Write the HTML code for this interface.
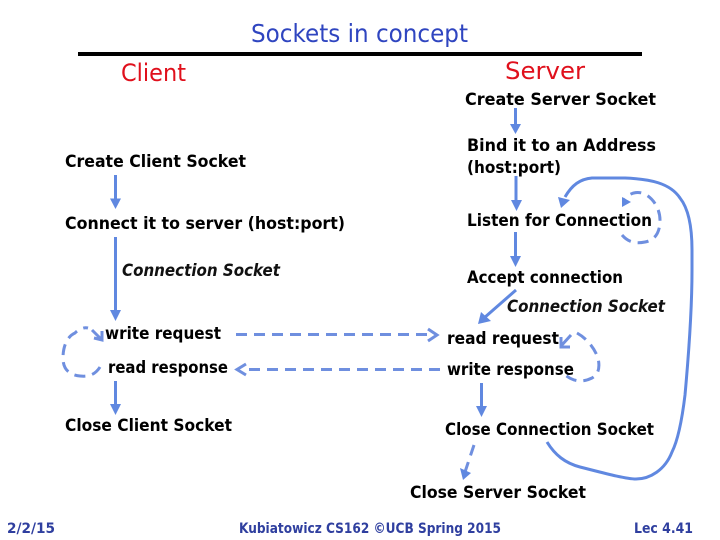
<!DOCTYPE html>
<html><head><meta charset="utf-8"><style>
html,body{margin:0;padding:0;background:#fff;width:720px;height:540px;overflow:hidden}
svg{display:block}
text{font-family:"DejaVu Sans","Liberation Sans",sans-serif;}
.b{font-size:16.500px;font-weight:bold;fill:#000}
.i{font-size:16.500px;font-style:italic;font-weight:bold;fill:#111}
.f{font-size:14px;font-weight:bold;fill:#2f3f9f}
.l{fill:none;stroke:#6088e0;stroke-width:3}
.d{fill:none;stroke:#6f8fdf;stroke-width:3;stroke-dasharray:11 7}
.h{fill:#6088e0}
</style></head><body>
<svg width="720" height="540" viewBox="0 0 720 540" xmlns="http://www.w3.org/2000/svg">
<rect x="78" y="52" width="564" height="4" fill="#000"/>
<text x="251" y="42" font-size="25" fill="#2f45c0" textLength="217" lengthAdjust="spacingAndGlyphs">Sockets in concept</text>
<text x="121" y="81" font-size="24" fill="#e0101c" textLength="65" lengthAdjust="spacingAndGlyphs">Client</text>
<text x="505" y="79" font-size="24" fill="#e0101c" textLength="80" lengthAdjust="spacingAndGlyphs">Server</text>

<text class="b" x="465" y="105" textLength="191" lengthAdjust="spacingAndGlyphs">Create Server Socket</text>
<text class="b" x="65" y="167" textLength="181" lengthAdjust="spacingAndGlyphs">Create Client Socket</text>
<text class="b" x="467" y="151" textLength="189" lengthAdjust="spacingAndGlyphs">Bind it to an Address</text>
<text class="b" x="467" y="173" textLength="94" lengthAdjust="spacingAndGlyphs">(host:port)</text>
<text class="b" x="65" y="229" textLength="280" lengthAdjust="spacingAndGlyphs">Connect it to server (host:port)</text>
<text class="b" x="467" y="226" textLength="185" lengthAdjust="spacingAndGlyphs">Listen for Connection</text>
<text class="i" x="122" y="276" textLength="158" lengthAdjust="spacingAndGlyphs">Connection Socket</text>
<text class="b" x="467" y="283" textLength="156" lengthAdjust="spacingAndGlyphs">Accept connection</text>
<text class="i" x="507" y="312" textLength="158" lengthAdjust="spacingAndGlyphs">Connection Socket</text>
<text class="b" x="105" y="339" textLength="116" lengthAdjust="spacingAndGlyphs">write request</text>
<text class="b" x="447" y="344" textLength="112" lengthAdjust="spacingAndGlyphs">read request</text>
<text class="b" x="108" y="373" textLength="120" lengthAdjust="spacingAndGlyphs">read response</text>
<text class="b" x="447" y="375" textLength="127" lengthAdjust="spacingAndGlyphs">write response</text>
<text class="b" x="65" y="431" textLength="167" lengthAdjust="spacingAndGlyphs">Close Client Socket</text>
<text class="b" x="445" y="435" textLength="209" lengthAdjust="spacingAndGlyphs">Close Connection Socket</text>
<text class="b" x="410" y="498" textLength="176" lengthAdjust="spacingAndGlyphs">Close Server Socket</text>

<text class="f" x="7" y="533" textLength="48" lengthAdjust="spacingAndGlyphs">2/2/15</text>
<text class="f" x="239" y="533" textLength="262" lengthAdjust="spacingAndGlyphs">Kubiatowicz CS162 ©UCB Spring 2015</text>
<text class="f" x="634" y="533" textLength="59" lengthAdjust="spacingAndGlyphs">Lec 4.41</text>

<!-- client solid arrows -->
<path class="l" d="M115.500 175V200"/><path class="h" d="M110 198.500H121L115.500 209Z"/>
<path class="l" d="M115.500 237V312"/><path class="h" d="M110 310H121L115.500 321Z"/>
<path class="l" d="M115.500 381V405"/><path class="h" d="M110 404H121L115.500 415Z"/>

<!-- server solid arrows -->
<path class="l" d="M515.500 108V126"/><path class="h" d="M510 124H521L515.500 134Z"/>
<path class="l" d="M516 176V202"/><path class="h" d="M511 200H522L516.500 211Z"/>
<path class="l" d="M515.500 232V258"/><path class="h" d="M510 256H521L515.500 267Z"/>
<path class="l" d="M516 290L484 318"/><path class="h" d="M478 324L481 312L491 321Z"/>
<path class="l" d="M481.500 383V408"/><path class="h" d="M476 406H487L481.500 417Z"/>
<path class="d" stroke-dasharray="9 3" d="M474 445L465 472"/><path class="h" d="M463 480L460 468L471 473Z"/>

<!-- long loop -->
<path class="l" d="M565 197C572 185 580 179 592 178L625 178C650 179 670 183 680 198C688 208 692 225 692 250L692 270C692 300 690 340 685 395C682 420 678 440 672 452C665 470 650 479 636 479C625 479 600 472 580 467C565 463 555 455 547 442"/>
<path class="h" d="M558 197L570 200L561 208Z"/>

<!-- dashed horizontals -->
<path class="d" d="M236 334.500H430"/>
<path d="M428 329L437 335L428 341" fill="none" stroke="#6f8fdf" stroke-width="3"/>
<path class="d" d="M440 369.500H246"/>
<path d="M246 364L237 369.500L246 375" fill="none" stroke="#6f8fdf" stroke-width="3"/>

<!-- left dashed loop -->
<path class="d" stroke-dasharray="9 6" d="M100 367C95 375 88 377 80 376C70 375 63 370 63 358C63 345 68 336 75 333C79 329 84 327 88 328"/>
<path d="M92 330L101 339M102 331V340L94 338" fill="none" stroke="#6f8fdf" stroke-width="3"/>

<!-- right dashed loop -->
<path class="d" stroke-dasharray="9 6" d="M577 333C586 338 594 347 598 358C600 367 599 374 592 378C582 383 572 382 562 372"/>
<path d="M571 335L561 346M561 337V347H570" fill="none" stroke="#6f8fdf" stroke-width="3"/>

<!-- listen dashed loop -->
<path class="d" stroke-dasharray="9 6" d="M622 235C628 242 635 244 645 242C655 240 660 233 660 220C660 208 652 196 642 193C634 191 627 195 624 200"/>
<path class="h" d="M622 207L622 197L631 202Z"/>
</svg>
</body></html>
